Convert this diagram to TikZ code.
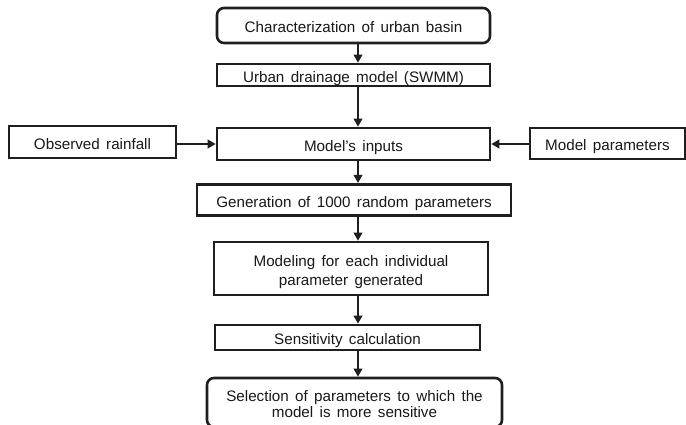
\documentclass[tikz,border=0pt]{standalone}
\usepackage{fontspec}
\setmainfont[WordSpace=1.5]{Liberation Sans}
\usetikzlibrary{arrows.meta}
\begin{document}
\begin{tikzpicture}[x=1pt,y=-1pt,
  box/.style={draw=black!88,line width=2.6pt,rectangle,align=center,inner sep=0pt,
    font=\fontsize{15.2}{19.5}\selectfont,text=black!90,text height=14.7pt,text depth=0pt},
  rbox/.style={box,rounded corners=7pt},
  arr/.style={draw=black!88,line width=2.7pt,-{Triangle[length=8pt,width=8.5pt]}}]
\useasboundingbox (0,0) rectangle (686,425);
\clip (0,0) rectangle (686,425);
\fill[white] (0,0) rectangle (686,425);
\node[rbox,minimum width=273pt,minimum height=35pt] (b1) at (353.5,25.5) {Characterization of urban basin};
\node[box,minimum width=273pt,minimum height=22pt] (b2) at (353.5,75) {Urban drainage model (SWMM)};
\node[box,minimum width=273pt,minimum height=32pt] (b3) at (353.5,144) {Model’s inputs};
\node[box,minimum width=167pt,minimum height=32pt] (l) at (92.5,142) {Observed rainfall};
\node[box,minimum width=155pt,minimum height=31pt] (r) at (607.5,143.5) {Model parameters};
\node[box,minimum width=314pt,minimum height=31pt] (b4) at (354,199.75) {Generation of 1000 random parameters};
\node[box,minimum width=274pt,minimum height=53pt,text height=34.2pt] (b5) at (351,268.5) {Modeling for each individual\\parameter generated};
\node[box,minimum width=265pt,minimum height=25pt] (b6) at (347.5,337.5) {Sensitivity calculation};
\node[rbox,minimum width=295pt,minimum height=49pt,font=\fontsize{15.2}{16}\selectfont,text height=30.7pt] (b7) at (354.5,402.5) {Selection of parameters to which the\\model is more sensitive};
\coordinate (ax) at (358,0);
\draw[arr] (ax |- b1.south) -- (ax |- b2.north);
\draw[arr] (ax |- b2.south) -- (ax |- b3.north);
\draw[arr] (ax |- b3.south) -- (ax |- b4.north);
\draw[arr] (ax |- b4.south) -- (ax |- b5.north);
\draw[arr] (ax |- b5.south) -- (ax |- b6.north);
\draw[arr] (ax |- b6.south) -- (ax |- b7.north);
\draw[arr] (l.east |- 0,144) -- (b3.west |- 0,144);
\draw[arr] (r.west |- 0,144) -- (b3.east |- 0,144);
\end{tikzpicture}
\end{document}
